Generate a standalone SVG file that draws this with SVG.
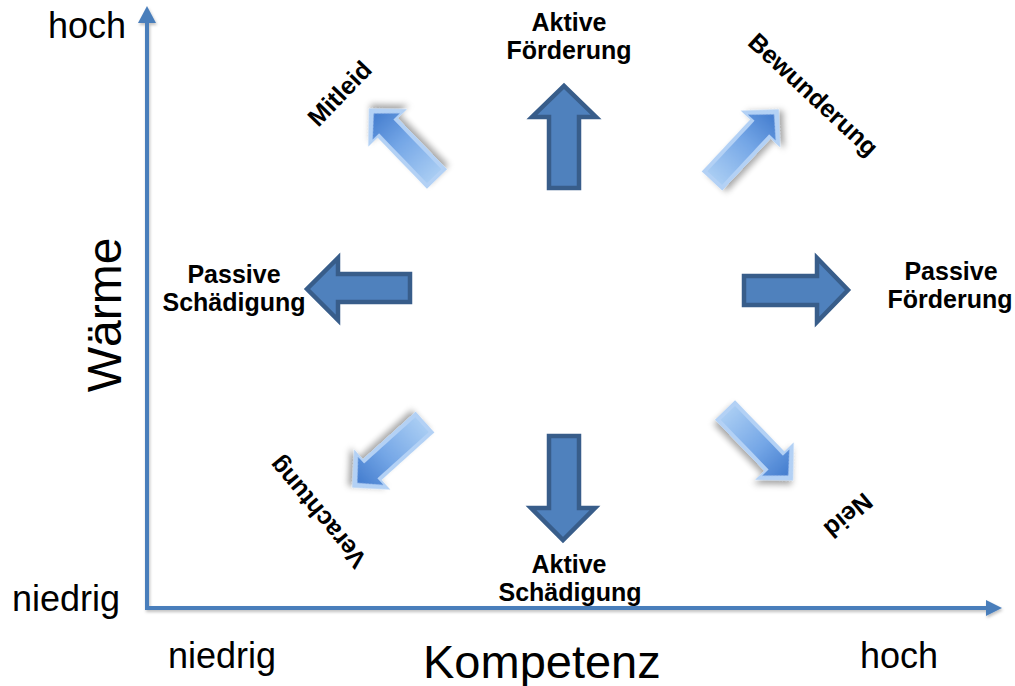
<svg xmlns="http://www.w3.org/2000/svg" width="1015" height="686" viewBox="0 0 1015 686">
<style>
.lbl{font-family:"Liberation Sans",Arial,sans-serif;font-weight:bold;font-size:25px;fill:#000;text-anchor:middle}
.ax{font-family:"Liberation Sans",Arial,sans-serif;font-size:36px;fill:#000}
.flat{fill:#4f81bd;stroke:#385d8a;stroke-width:4.5;stroke-linejoin:miter}
.d3o{fill:#b3d1f5}
.d3i{fill:url(#g3d)}
.axis{stroke:#4a7ebb;stroke-width:4;fill:none}
</style>
<defs>
<linearGradient id="g3d" x1="0" y1="0" x2="1" y2="0">
<stop offset="0" stop-color="#a8ccf3"/>
<stop offset="0.55" stop-color="#74a6e6"/>
<stop offset="1" stop-color="#437cce"/>
</linearGradient>
<filter id="sh" x="-30%" y="-30%" width="160%" height="160%">
<feDropShadow dx="2" dy="4" stdDeviation="3" flood-color="#000" flood-opacity="0.35"/>
</filter>
<filter id="ash" x="-5%" y="-5%" width="110%" height="110%">
<feDropShadow dx="1" dy="2" stdDeviation="1.5" flood-color="#000" flood-opacity="0.25"/>
</filter>
<g id="arr3d">
<polygon class="d3o" points="0,-14 71,-14 71,-27 98,0 71,27 71,14 0,14"/>
<polygon class="d3i" points="4,-10 73,-10 73,-19 91,0 73,19 73,10 4,10"/>
</g>
</defs>
<g id="connectors">
<g filter="url(#ash)">
<line class="axis" x1="147" y1="608" x2="147" y2="20"/>
<polygon points="138,23 156,23 147,6" fill="#4a7ebb"/>
<line class="axis" x1="145" y1="608" x2="988" y2="608"/>
<polygon points="986,600 986,616 1002,608" fill="#4a7ebb"/>
</g>
</g>
<g id="axis-labels">
<text class="ax" x="48" y="38">hoch</text>
<text class="ax" x="12" y="611">niedrig</text>
<text class="ax" x="168" y="668">niedrig</text>
<text class="ax" x="860" y="668">hoch</text>
<text class="ax" x="423" y="678" style="font-size:47px">Kompetenz</text>
<text class="ax" transform="translate(121,315) rotate(-90)" text-anchor="middle" style="font-size:48px">Wärme</text>
</g>
<g id="aktive-foerderung">
<polygon class="flat" points="549,188 579,188 579,117 596,117 564,86 532,117 549,117"/>
<text class="lbl" x="569" y="31">Aktive</text>
<text class="lbl" x="569" y="59">Förderung</text>
</g>
<g id="aktive-schaedigung">
<polygon class="flat" points="549,436 579,436 579,508 595,508 563,540 531,508 549,508"/>
<text class="lbl" x="569" y="573">Aktive</text>
<text class="lbl" x="570" y="601">Schädigung</text>
</g>
<g id="passive-schaedigung">
<polygon class="flat" points="410,274 410,302 338,302 338,320 307,289 338,258 338,274"/>
<text class="lbl" x="234" y="283">Passive</text>
<text class="lbl" x="234" y="311">Schädigung</text>
</g>
<g id="passive-foerderung">
<polygon class="flat" points="744,276 744,305 817,305 817,322 848,290 817,258 817,276"/>
<text class="lbl" x="951" y="280">Passive</text>
<text class="lbl" x="950" y="308">Förderung</text>
</g>
<g id="mitleid">
<use href="#arr3d" transform="translate(437,179) rotate(-134)" filter="url(#sh)"/>
<text class="lbl" transform="translate(340,94) rotate(-46)" y="8">Mitleid</text>
</g>
<g id="bewunderung">
<use href="#arr3d" transform="translate(712,181) rotate(-47)" filter="url(#sh)"/>
<text class="lbl" transform="translate(813,95) rotate(43)" y="8">Bewunderung</text>
</g>
<g id="verachtung">
<use href="#arr3d" transform="translate(425,422) rotate(138)" filter="url(#sh)"/>
<text class="lbl" transform="translate(318,512) rotate(230)" y="8">Verachtung</text>
</g>
<g id="neid">
<use href="#arr3d" transform="translate(725,410) rotate(46)" filter="url(#sh)"/>
<text class="lbl" transform="translate(848,515) rotate(140)" y="8">Neid</text>
</g>
</svg>
